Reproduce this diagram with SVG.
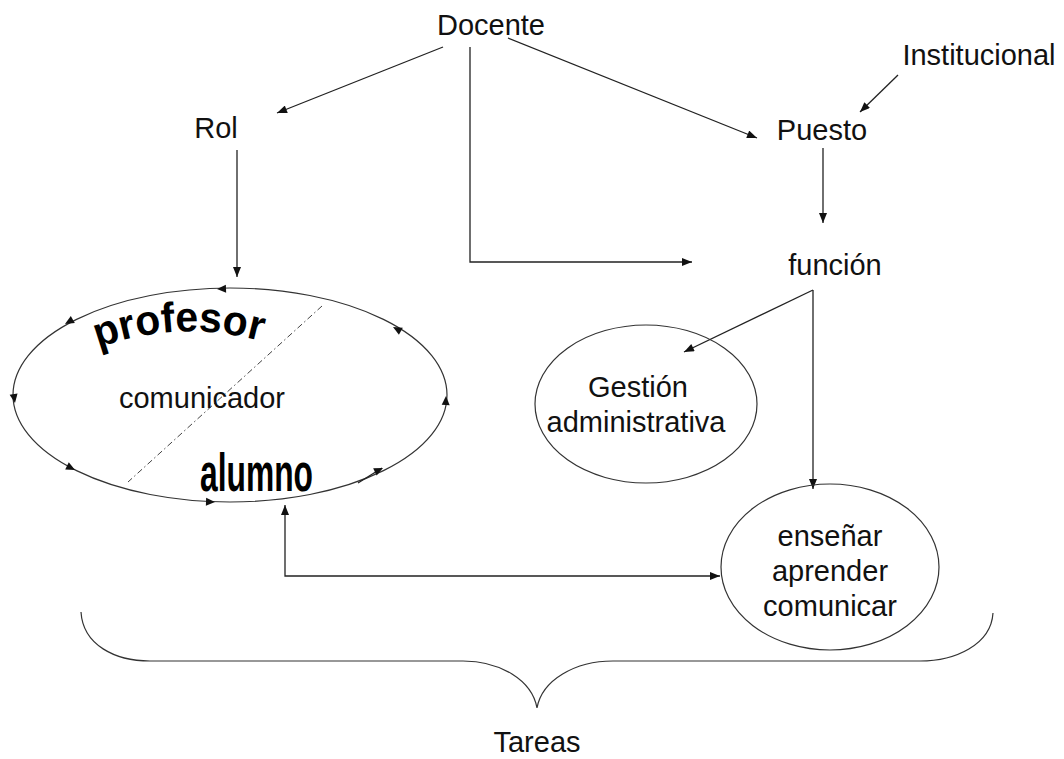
<svg xmlns="http://www.w3.org/2000/svg" width="1064" height="759" viewBox="0 0 1064 759">
  <style>
    .lbl { font-family: "Liberation Sans", Arial, sans-serif; font-size: 29px; fill: #111; text-anchor: middle; }
    .wa { font-family: "Liberation Sans", Arial, sans-serif; font-weight: bold; fill: #000; }
    .shape { fill: none; stroke: #333; stroke-width: 1.2; }
    .conn { fill: none; stroke: #222; stroke-width: 1.3; }
    .tip { fill: #111; }
  </style>
  <defs>
    <marker id="arrow" viewBox="0 0 10 8" refX="10" refY="4" markerWidth="11" markerHeight="8" markerUnits="userSpaceOnUse" orient="auto-start-reverse">
      <path d="M0,0 L10,4 L0,8 z" fill="#111"/>
    </marker>
    <polygon id="cyc" points="0,0 -9,-4 -9,4"/>
    <path id="arcProfesor" d="M98,348 Q180,318 264,342"/>
  </defs>

  <rect width="1064" height="759" fill="#fff"/>

  <!-- connectors -->
  <g id="connectors">
    <line class="conn" x1="443" y1="47" x2="277" y2="113" marker-end="url(#arrow)"/>
    <line class="conn" x1="508" y1="38" x2="757" y2="138" marker-end="url(#arrow)"/>
    <polyline class="conn" points="470,47 470,262 692,262" marker-end="url(#arrow)"/>
    <line class="conn" x1="898" y1="75" x2="860" y2="112" marker-end="url(#arrow)"/>
    <line class="conn" x1="237" y1="150" x2="237" y2="277" marker-end="url(#arrow)"/>
    <line class="conn" x1="823" y1="148" x2="823" y2="223" marker-end="url(#arrow)"/>
    <line class="conn" x1="813" y1="290" x2="684" y2="352" marker-end="url(#arrow)"/>
    <line class="conn" x1="813" y1="290" x2="813" y2="489" marker-end="url(#arrow)"/>
    <polyline class="conn" points="285,505 285,576 720,576" marker-start="url(#arrow)" marker-end="url(#arrow)"/>
  </g>

  <!-- top labels -->
  <g id="docente"><text class="lbl" x="491" y="35">Docente</text></g>
  <g id="rol"><text class="lbl" x="216" y="138">Rol</text></g>
  <g id="puesto"><text class="lbl" x="822" y="140">Puesto</text></g>
  <g id="institucional"><text class="lbl" x="979" y="65">Institucional</text></g>
  <g id="funcion"><text class="lbl" x="835" y="275">función</text></g>

  <!-- communication cycle -->
  <g id="ciclo">
    <ellipse class="shape" cx="230" cy="395" rx="217" ry="107"/>
    <line x1="322" y1="306" x2="128" y2="482" stroke="#444" stroke-width="1" stroke-dasharray="6 3 1.5 3"/>
    <line class="conn" x1="358" y1="483" x2="382" y2="468"/>
    <g class="tip">
      <use href="#cyc" transform="translate(217,289) rotate(178)"/>
      <use href="#cyc" transform="translate(65,324) rotate(150)"/>
      <use href="#cyc" transform="translate(15,403) rotate(81)"/>
      <use href="#cyc" transform="translate(75,470) rotate(27)"/>
      <use href="#cyc" transform="translate(215,502) rotate(2)"/>
      <use href="#cyc" transform="translate(383,468) rotate(-26)"/>
      <use href="#cyc" transform="translate(446,396) rotate(-88)"/>
      <use href="#cyc" transform="translate(393,327) rotate(-151)"/>
    </g>
    <text class="wa" font-size="42"><textPath href="#arcProfesor" textLength="166" lengthAdjust="spacingAndGlyphs">profesor</textPath></text>
    <text class="lbl" x="202" y="408">comunicador</text>
    <text class="wa" font-size="32" transform="translate(200,491) scale(1,1.7)" textLength="113" lengthAdjust="spacingAndGlyphs">alumno</text>
  </g>

  <g id="gestion">
    <ellipse class="shape" cx="646" cy="404" rx="111" ry="79"/>
    <text class="lbl" x="638" y="397">Gestión</text>
    <text class="lbl" x="636" y="432">administrativa</text>
  </g>

  <g id="ensenar">
    <ellipse class="shape" cx="830" cy="567" rx="109" ry="83"/>
    <text class="lbl" x="830" y="546">enseñar</text>
    <text class="lbl" x="830" y="581">aprender</text>
    <text class="lbl" x="830" y="616">comunicar</text>
  </g>

  <g id="tareas">
    <path class="shape" d="M81,612 C83,645 115,661 150,661 L463,661 C500,661 532,680 537,708 C542,680 575,661 613,661 L920,661 C955,661 991,645 993,613"/>
    <text class="lbl" x="537" y="752">Tareas</text>
  </g>
</svg>
